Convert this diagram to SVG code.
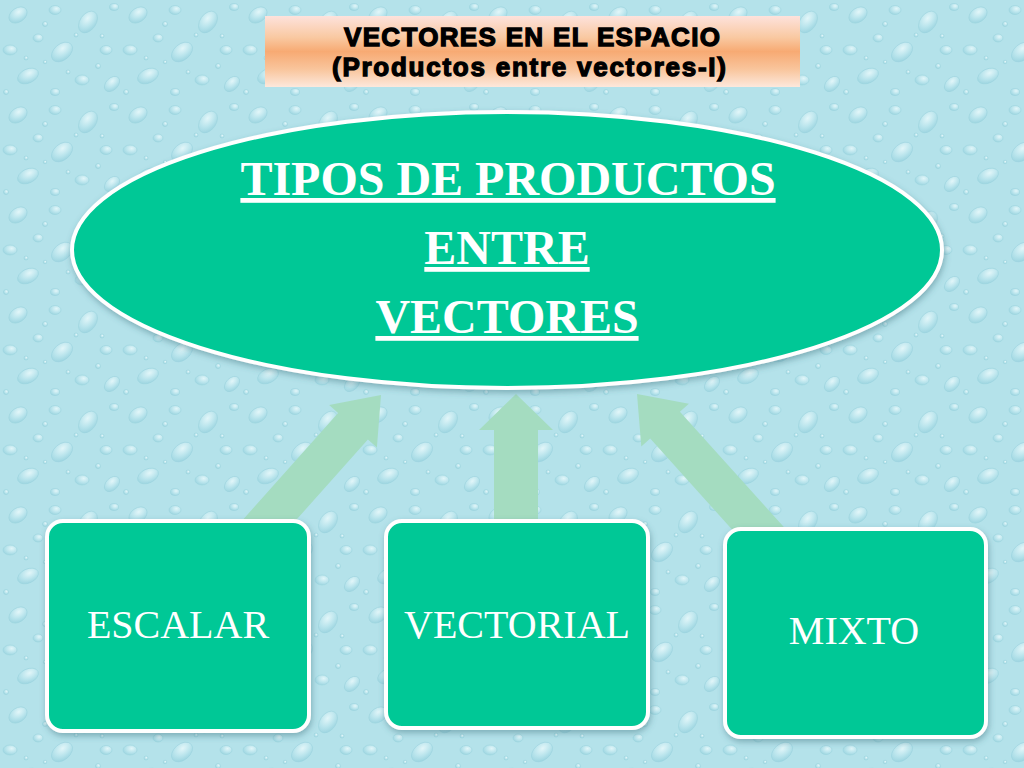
<svg xmlns="http://www.w3.org/2000/svg" width="1024" height="768" viewBox="0 0 1024 768">
<defs>
<style>
.node{fill:#02c896;stroke:#ffffff;stroke-width:4}
.arrow{fill:#a4dcc0}
.big{font-family:"Liberation Serif","Times New Roman",serif;font-weight:bold;font-size:48px;fill:#ffffff;text-anchor:middle;text-decoration:underline}
.lbl{font-family:"Liberation Serif","Times New Roman",serif;font-size:40px;fill:#ffffff;text-anchor:middle}
.ttl{font-family:"Liberation Sans",Arial,sans-serif;font-weight:bold;font-size:26px;fill:#000000;stroke:#000000;stroke-width:1.3;text-anchor:middle}
.drop{fill:url(#dropG);stroke:#9bd3de;stroke-width:0.6}
</style>
<radialGradient id="dropG" cx="0.62" cy="0.35" r="0.75">
<stop offset="0" stop-color="#e2f6f9"/>
<stop offset="0.55" stop-color="#b8e4ec"/>
<stop offset="1" stop-color="#98d2de"/>
</radialGradient>
<linearGradient id="titleG" x1="0" y1="0" x2="0" y2="1">
<stop offset="0" stop-color="#fde2dc"/>
<stop offset="0.3" stop-color="#f9c9a2"/>
<stop offset="0.5" stop-color="#f7aa73"/>
<stop offset="0.75" stop-color="#f9c59c"/>
<stop offset="1" stop-color="#fde8dc"/>
</linearGradient>
<pattern id="water" x="0" y="0" width="120" height="100" patternUnits="userSpaceOnUse">
<rect width="120" height="100" fill="#b4e2ea"/>
<ellipse class="drop" cx="18" cy="15" rx="10" ry="7" transform="rotate(-35 18 15)"/>
<ellipse class="drop" cx="55" cy="10" rx="6" ry="4.5"/>
<ellipse class="drop" cx="88" cy="22" rx="12" ry="8" transform="rotate(-55 88 22)"/>
<ellipse class="drop" cx="114" cy="7" rx="4.5" ry="3.5"/>
<ellipse class="drop" cx="38" cy="38" rx="5" ry="4"/>
<ellipse class="drop" cx="10" cy="50" rx="7" ry="5"/>
<ellipse class="drop" cx="62" cy="52" rx="12" ry="8" transform="rotate(-40 62 52)"/>
<ellipse class="drop" cx="106" cy="50" rx="6" ry="4.5"/>
<ellipse class="drop" cx="28" cy="76" rx="11" ry="7" transform="rotate(-25 28 76)"/>
<ellipse class="drop" cx="82" cy="80" rx="7" ry="5"/>
<ellipse class="drop" cx="112" cy="84" rx="9" ry="6" transform="rotate(-45 112 84)"/>
<ellipse class="drop" cx="55" cy="92" rx="4.5" ry="3.5"/>
<circle class="drop" cx="45" cy="24" r="2.5"/>
<circle class="drop" cx="98" cy="66" r="2.5"/>
<circle class="drop" cx="6" cy="92" r="2.5"/>
<circle class="drop" cx="76" cy="35" r="2"/>
<circle class="drop" cx="26" cy="58" r="2"/>
<circle class="drop" cx="68" cy="72" r="2"/>
<circle class="drop" cx="102" cy="36" r="2"/>
<circle class="drop" cx="45" cy="62" r="1.8"/>
</pattern>
<filter id="shadow" x="-10%" y="-10%" width="120%" height="125%">
<feDropShadow dx="1" dy="3" stdDeviation="3" flood-color="#3a6f78" flood-opacity="0.45"/>
</filter>
</defs>

<rect id="background" x="0" y="0" width="1024" height="768" fill="url(#water)"/>

<g id="title">
<rect x="265" y="16" width="535" height="71" fill="url(#titleG)"/>
<text class="ttl" x="532" y="46" textLength="376" lengthAdjust="spacing">VECTORES EN EL ESPACIO</text>
<text class="ttl" x="529" y="76" textLength="394" lengthAdjust="spacing">(Productos entre vectores-I)</text>
</g>

<g id="connectors">
<polygon class="arrow" points="381,395 376.9,447.6 367.9,439.6 270.9,548.3 241.1,521.7 338.1,413 329.1,405"/>
<polygon class="arrow" points="516,394 553,430 538,430 538,535 494,535 494,430 479,430"/>
<polygon class="arrow" points="637,394 688.9,403.8 679.9,411.8 787.9,531.6 758.1,558.4 650.2,438.6 641.3,446.6"/>
</g>

<g id="node-tipos">
<ellipse class="node" cx="507" cy="250" rx="435" ry="138" stroke-width="3" filter="url(#shadow)"/>
<text class="big" x="508" y="195">TIPOS DE PRODUCTOS</text>
<text class="big" x="507" y="264">ENTRE</text>
<text class="big" x="507" y="333">VECTORES</text>
</g>

<g id="node-escalar">
<rect class="node" x="47" y="521" width="262" height="210" rx="16" filter="url(#shadow)"/>
<text class="lbl" x="178" y="638">ESCALAR</text>
</g>

<g id="node-vectorial">
<rect class="node" x="386" y="521" width="262" height="207" rx="16" filter="url(#shadow)"/>
<text class="lbl" x="517" y="638">VECTORIAL</text>
</g>

<g id="node-mixto">
<rect class="node" x="725" y="529" width="261" height="208" rx="16" filter="url(#shadow)"/>
<text class="lbl" x="854" y="644">MIXTO</text>
</g>
</svg>
